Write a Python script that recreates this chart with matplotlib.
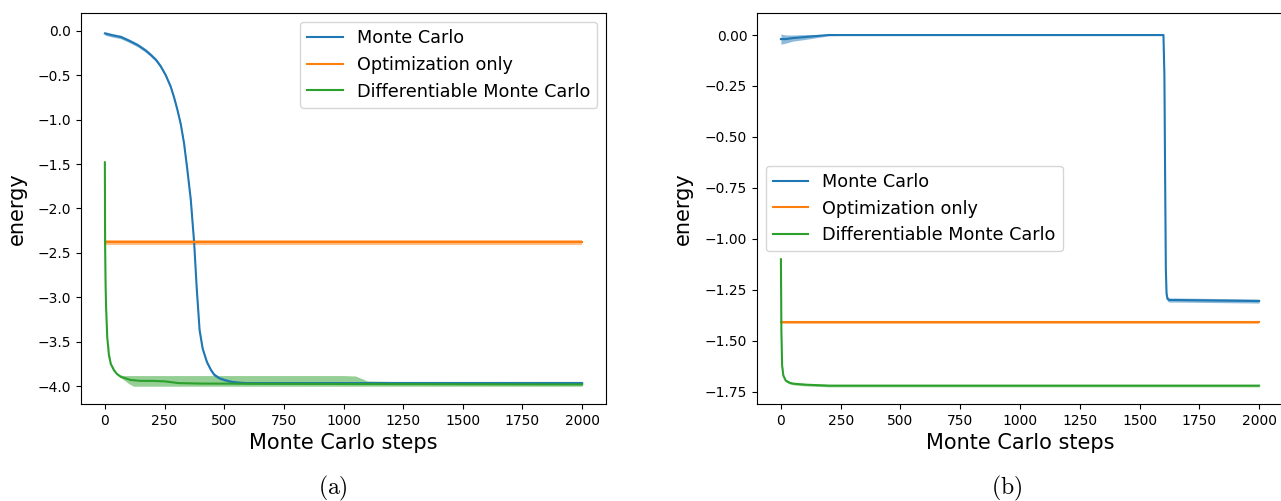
import numpy as np
import matplotlib.pyplot as plt

plt.rcParams['mathtext.fontset'] = 'cm'

# ---- panel (a) ----
mc_a_steps = [0, 30, 67, 100, 137, 170, 192, 215, 234, 255, 276, 290, 304, 318, 332, 345, 360,
              374, 385, 397, 410, 428, 445, 458, 480, 502, 530, 563, 600, 700, 1000, 1500, 2000]
mc_a_energy = [-0.03, -0.05, -0.07, -0.11, -0.16, -0.22, -0.27, -0.33, -0.40, -0.50, -0.63, -0.75,
               -0.89, -1.05, -1.27, -1.55, -1.90, -2.38, -2.90, -3.37, -3.58, -3.73, -3.82, -3.87,
               -3.91, -3.93, -3.95, -3.96, -3.965, -3.965, -3.965, -3.965, -3.965]
mc_a_std = [0.02, 0.02, 0.02, 0.02, 0.02, 0.02, 0.02, 0.02, 0.02, 0.02, 0.02, 0.02,
            0.02, 0.02, 0.02, 0.02, 0.02, 0.02, 0.02, 0.02, 0.02, 0.02, 0.02, 0.02,
            0.015, 0.015, 0.015, 0.015, 0.015, 0.015, 0.015, 0.015, 0.015]

opt_a_steps = [0, 2000]
opt_a_energy = [-2.38, -2.38]
opt_a_std = [0.03, 0.03]

dmc_a_steps = [0, 1, 3, 5, 10, 17, 25, 38, 50, 67, 85, 109, 150, 200, 250, 280, 310, 400, 1000, 2000]
dmc_a_energy = [-1.48, -2.40, -2.85, -3.10, -3.45, -3.65, -3.75, -3.82, -3.86, -3.895, -3.91, -3.93,
                -3.94, -3.94, -3.945, -3.955, -3.965, -3.97, -3.975, -3.98]
dmc_a_band_steps = [0, 10, 25, 50, 60, 80, 100, 120, 200, 500, 1000, 1050, 1100, 1200, 2000]
dmc_a_band_hi = [-1.48, -3.44, -3.74, -3.85, -3.87, -3.88, -3.88, -3.88, -3.88, -3.88, -3.88,
                 -3.885, -3.94, -3.945, -3.945]
dmc_a_band_lo = [-1.48, -3.46, -3.76, -3.87, -3.89, -3.93, -3.97, -4.0, -4.0, -4.0, -4.0,
                 -4.0, -4.0, -4.0, -4.0]

# ---- panel (b) ----
mc_b_steps = [0, 20, 50, 100, 150, 200, 250, 1000, 1600, 1604, 1607, 1610, 1613, 1617, 1625, 1650, 2000]
mc_b_energy = [-0.02, -0.02, -0.015, -0.01, -0.005, 0.0, 0.0, 0.0, 0.0, -0.2, -0.7, -1.15, -1.27,
               -1.295, -1.30, -1.30, -1.305]
mc_b_std = [0.025, 0.02, 0.015, 0.012, 0.008, 0.004, 0.003, 0.003, 0.003, 0.02, 0.02, 0.02, 0.015,
            0.012, 0.01, 0.01, 0.01]

opt_b_steps = [0, 2000]
opt_b_energy = [-1.41, -1.41]
opt_b_std = [0.006, 0.006]

dmc_b_steps = [0, 2, 5, 10, 20, 35, 50, 100, 200, 2000]
dmc_b_energy = [-1.10, -1.45, -1.62, -1.67, -1.695, -1.705, -1.71, -1.715, -1.72, -1.72]
dmc_b_std = [0.005, 0.01, 0.01, 0.008, 0.006, 0.006, 0.006, 0.006, 0.006, 0.006]

labels = ["Monte Carlo", "Optimization only", "Differentiable Monte Carlo"]

fig = plt.figure(figsize=(12.81, 5.01), dpi=100)
ax1 = fig.add_axes([81 / 1281, 97 / 501, 525 / 1281, 391 / 501])
ax2 = fig.add_axes([757 / 1281, 97 / 501, 526 / 1281, 391 / 501])


def band(ax, x, y, s, c):
    y = np.array(y)
    s = np.array(s)
    ax.fill_between(x, y - s, y + s, color=c, alpha=0.5, lw=0)


# panel (a)
band(ax1, mc_a_steps, mc_a_energy, mc_a_std, 'C0')
ax1.plot(mc_a_steps, mc_a_energy, color='C0', label=labels[0])
band(ax1, opt_a_steps, opt_a_energy, opt_a_std, 'C1')
ax1.plot(opt_a_steps, opt_a_energy, color='C1', label=labels[1])
ax1.fill_between(dmc_a_band_steps, dmc_a_band_lo, dmc_a_band_hi, color='C2', alpha=0.5, lw=0)
ax1.plot(dmc_a_steps, dmc_a_energy, color='C2', label=labels[2])
ax1.set_xlim(-100, 2100)
ax1.set_ylim(-4.2, 0.2)
ax1.set_yticks(np.arange(-4.0, 0.01, 0.5))
ax1.legend(loc='upper right', fontsize=12.7)

# panel (b)
band(ax2, mc_b_steps, mc_b_energy, mc_b_std, 'C0')
ax2.plot(mc_b_steps, mc_b_energy, color='C0', label=labels[0])
band(ax2, opt_b_steps, opt_b_energy, opt_b_std, 'C1')
ax2.plot(opt_b_steps, opt_b_energy, color='C1', label=labels[1])
band(ax2, dmc_b_steps, dmc_b_energy, dmc_b_std, 'C2')
ax2.plot(dmc_b_steps, dmc_b_energy, color='C2', label=labels[2])
ax2.set_xlim(-100, 2100)
ax2.set_ylim(-1.81, 0.108)
ax2.set_yticks(np.arange(-1.75, 0.01, 0.25))
ax2.legend(loc='center left', fontsize=12.7)

for ax in (ax1, ax2):
    ax.set_xticks(np.arange(0, 2001, 250))
    ax.set_xlabel("Monte Carlo steps", fontsize=15)
    ax.set_ylabel("energy", fontsize=15)
ax1.yaxis.set_label_coords(-0.103, 0.5)
ax2.yaxis.set_label_coords(-0.122, 0.5)

fig.text(333 / 1281, 1 - 488 / 501, r'$\mathrm{(a)}$', ha='center', va='center', fontsize=17)
fig.text(1007 / 1281, 1 - 488 / 501, r'$\mathrm{(b)}$', ha='center', va='center', fontsize=17)

fig.savefig("out.png", dpi=100)
